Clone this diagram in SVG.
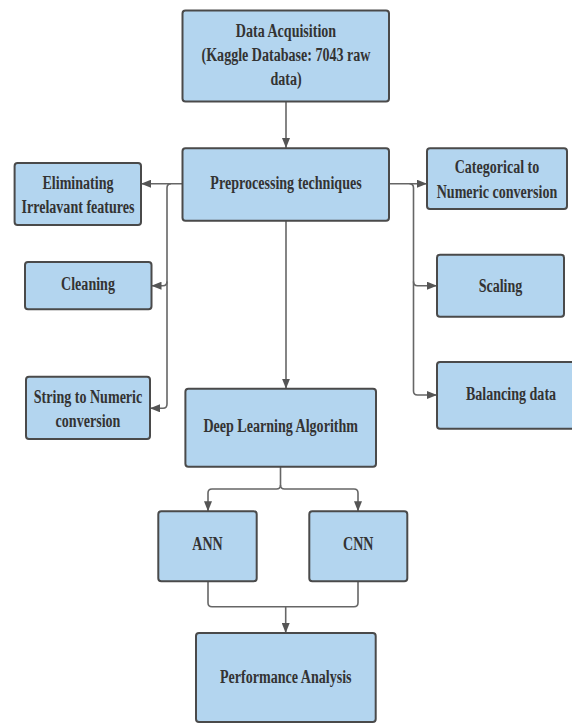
<svg xmlns="http://www.w3.org/2000/svg" width="572" height="724" viewBox="0 0 572 724">
<style>
.box{fill:#b3d5ef;stroke:#4a4a4a;stroke-width:2}
.t{font-family:"Liberation Serif","Times New Roman",serif;font-weight:bold;font-size:19px;fill:#333;text-anchor:middle}
.c{fill:none;stroke:#666;stroke-width:1.6}
</style>
<defs>
<marker id="ah" markerUnits="userSpaceOnUse" markerWidth="10" markerHeight="8" refX="10" refY="4" orient="auto">
<path d="M0,0 L10,4 L0,8 z" fill="#555"/>
</marker>
</defs>
<rect width="572" height="724" fill="#fff"/>
<g id="connectors">
<path class="c" d="M286,102 V148" marker-end="url(#ah)"/>
<path class="c" d="M182.5,183.7 H141" marker-end="url(#ah)"/>
<path class="c" d="M171,183.7 Q167,183.7 167,188 V404 Q167,408.3 163,408.3 H150" marker-end="url(#ah)"/>
<path class="c" d="M167,281.5 Q167,285.7 163,285.7 H151.5" marker-end="url(#ah)"/>
<path class="c" d="M389,183.7 H427" marker-end="url(#ah)"/>
<path class="c" d="M409.5,183.7 Q413.5,183.7 413.5,188 V391 Q413.5,395 417.5,395 H437" marker-end="url(#ah)"/>
<path class="c" d="M413.5,281.5 Q413.5,285.7 417.5,285.7 H437" marker-end="url(#ah)"/>
<path class="c" d="M286,220.7 V388.7" marker-end="url(#ah)"/>
<path class="c" d="M280.5,466.7 V485 Q280.5,489 276.5,489 H212 Q208,489 208,493 V511.3" marker-end="url(#ah)"/>
<path class="c" d="M280.5,485 Q280.5,489 284.5,489 H354 Q358,489 358,493 V511.3" marker-end="url(#ah)"/>
<path class="c" d="M208,581.3 V602.7 Q208,606.7 212,606.7 H354 Q358,606.7 358,602.7 V581.3"/>
<path class="c" d="M285.7,606.7 V633" marker-end="url(#ah)"/>
</g>
<g id="data-acquisition">
<rect class="box" x="182.5" y="10.5" width="206.5" height="91" rx="3"/>
<text class="t" transform="translate(286,36.7) scale(0.74,1)"><tspan x="0">Data Acquisition</tspan><tspan x="0" dy="24">(Kaggle Database: 7043 raw</tspan><tspan x="0" dy="24.5">data)</tspan></text>
</g>
<g id="preprocessing">
<rect class="box" x="182.5" y="148.3" width="206.5" height="72.4" rx="3"/>
<text class="t" transform="translate(286,189) scale(0.74,1)">Preprocessing techniques</text>
</g>
<g id="eliminating">
<rect class="box" x="14.6" y="163" width="126.4" height="62" rx="3"/>
<text class="t" transform="translate(78,189) scale(0.74,1)"><tspan x="0">Eliminating</tspan><tspan x="0" dy="24.3">Irrelavant features</tspan></text>
</g>
<g id="categorical">
<rect class="box" x="427" y="148.3" width="140" height="60.7" rx="3"/>
<text class="t" transform="translate(497,173.3) scale(0.74,1)"><tspan x="0">Categorical to</tspan><tspan x="0" dy="25">Numeric conversion</tspan></text>
</g>
<g id="cleaning">
<rect class="box" x="25" y="262" width="126.5" height="47.3" rx="3"/>
<text class="t" transform="translate(88,290) scale(0.74,1)">Cleaning</text>
</g>
<g id="string-to-numeric">
<rect class="box" x="26" y="376.7" width="124" height="62.3" rx="3"/>
<text class="t" transform="translate(88,403.3) scale(0.74,1)"><tspan x="0">String to Numeric</tspan><tspan x="0" dy="23.4">conversion</tspan></text>
</g>
<g id="scaling">
<rect class="box" x="437" y="254.7" width="127" height="62" rx="3"/>
<text class="t" transform="translate(500.5,291.7) scale(0.74,1)">Scaling</text>
</g>
<g id="balancing">
<rect class="box" x="437" y="362" width="148" height="66.7" rx="3"/>
<text class="t" transform="translate(511,400) scale(0.74,1)">Balancing data</text>
</g>
<g id="deep-learning">
<rect class="box" x="185.4" y="388.7" width="190.6" height="78" rx="3"/>
<text class="t" transform="translate(280.7,431.7) scale(0.74,1)">Deep Learning Algorithm</text>
</g>
<g id="ann">
<rect class="box" x="158.3" y="511.3" width="98.4" height="70" rx="3"/>
<text class="t" transform="translate(207.5,550) scale(0.74,1)">ANN</text>
</g>
<g id="cnn">
<rect class="box" x="309.3" y="511.3" width="98" height="70" rx="3"/>
<text class="t" transform="translate(358.3,550) scale(0.74,1)">CNN</text>
</g>
<g id="performance">
<rect class="box" x="196" y="633" width="179.7" height="89" rx="3"/>
<text class="t" transform="translate(285.8,683.3) scale(0.74,1)">Performance Analysis</text>
</g>
</svg>
